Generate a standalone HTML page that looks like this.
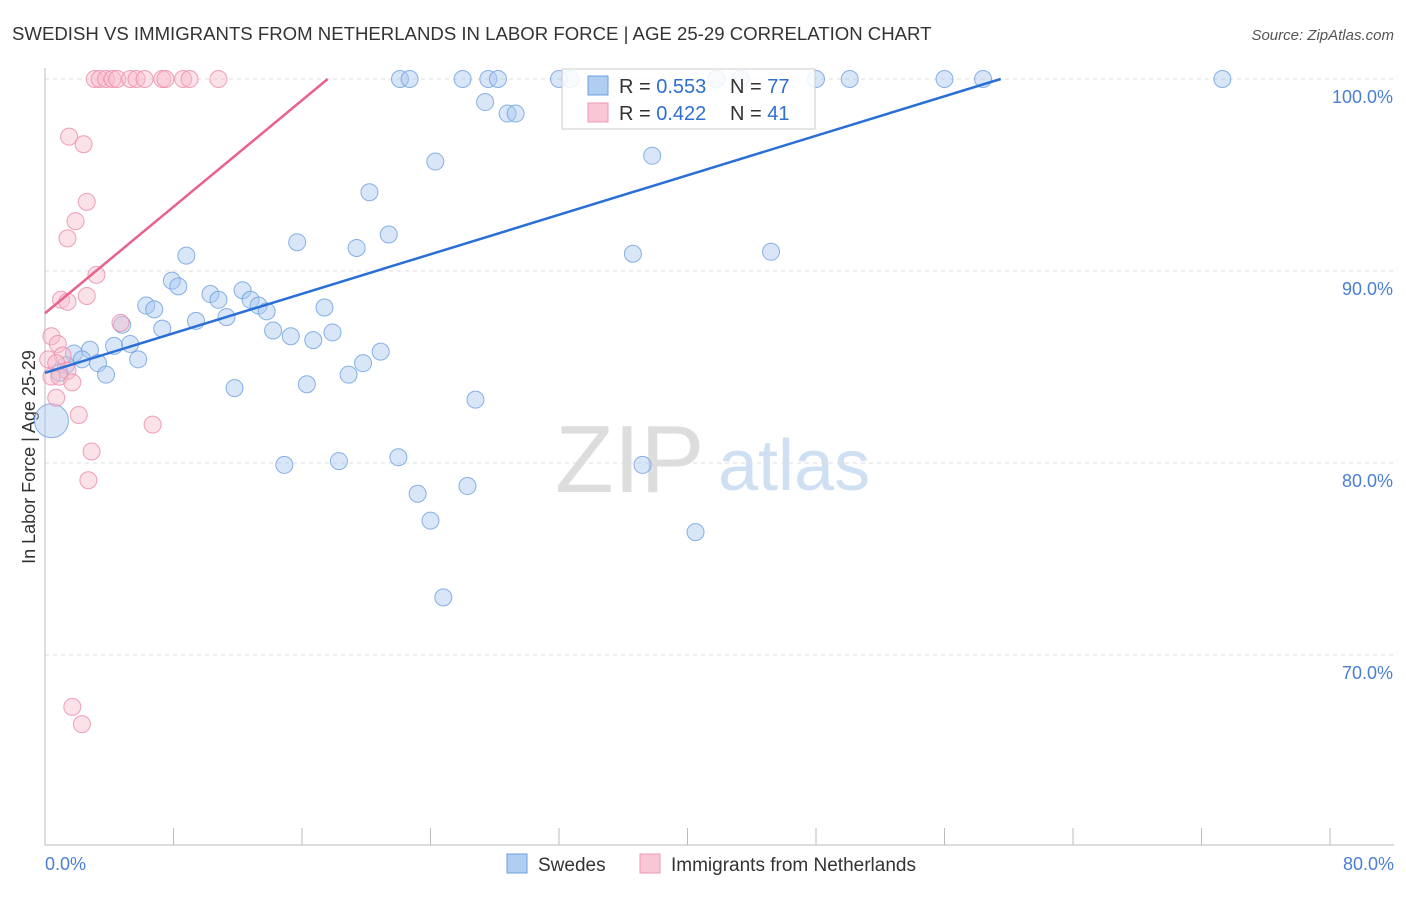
<!DOCTYPE html>
<html><head><meta charset="utf-8"><style>
body{margin:0;background:#fff;font-family:"Liberation Sans",sans-serif;}
svg text{font-family:"Liberation Sans",sans-serif;}
</style></head><body>
<svg id="c" width="1406" height="892" xmlns="http://www.w3.org/2000/svg">
<text x="12" y="40" font-size="18.6" fill="#333">SWEDISH VS IMMIGRANTS FROM NETHERLANDS IN LABOR FORCE | AGE 25-29 CORRELATION CHART</text>
<text x="1394" y="40" font-size="15" fill="#555" font-style="italic" text-anchor="end">Source: ZipAtlas.com</text>
<text x="35" y="457" font-size="18" fill="#333" text-anchor="middle" transform="rotate(-90 35 457)">In Labor Force | Age 25-29</text>
<text x="555" y="492" font-size="96" fill="#ddd" font-family="Liberation Serif">ZIP</text>
<text x="718" y="490" font-size="72" fill="#cfe0f3">atlas</text>
<g id="grid"></g><g id="pts"></g><g id="lines"></g>
<g>
<rect x="562" y="69" width="253" height="60" fill="#fff" fill-opacity="0.85" stroke="#ccc"/>
<rect x="588" y="76" width="20" height="19" fill="#b0cdf2" stroke="#6fa0e0"/>
<rect x="588" y="103" width="20" height="19" fill="#f9c6d5" stroke="#ee9ab4"/>
<text x="619" y="93" font-size="20" fill="#333">R = <tspan fill="#2f6fd0">0.553</tspan></text>
<text x="730" y="93" font-size="20" fill="#333">N = <tspan fill="#2f6fd0">77</tspan></text>
<text x="619" y="120" font-size="20" fill="#333">R = <tspan fill="#2f6fd0">0.422</tspan></text>
<text x="730" y="120" font-size="20" fill="#333">N = <tspan fill="#2f6fd0">41</tspan></text>
</g>
<g>
<rect x="507" y="854" width="20" height="19" fill="#b0cdf2" stroke="#6fa0e0"/>
<text x="538" y="871" font-size="19" fill="#333">Swedes</text>
<rect x="640" y="854" width="20" height="19" fill="#f9c6d5" stroke="#ee9ab4"/>
<text x="671" y="871" font-size="19" fill="#333">Immigrants from Netherlands</text>
</g>
<text x="45" y="870" font-size="18" fill="#4a7fd4">0.0%</text>
<text x="1394" y="870" font-size="18" fill="#4a7fd4" text-anchor="end">80.0%</text>
</svg>
<script>
const yTicks=[100,90,80,70];
const yTickLabels=["100.0%","90.0%","80.0%","70.0%"];
const swedesX=[22.1,22.7,26,27.6,28.2,32,32.7,41.8,43.3,48,50.1,56,58.4,73.3,27.4,28.8,29.3,24.3,37.8,20.2,21.4,15.7,19.4,36.6,45.2,8.8,7.9,8.3,10.3,10.8,12.3,12.8,13.3,13.8,6.3,6.8,17.4,9.4,11.3,7.3,4.8,14.2,15.3,16.7,17.9,4.3,5.3,2.8,1.8,2.3,3.3,3.8,5.8,1.3,0.9,20.9,19.8,18.9,16.3,11.8,26.8,0.4,14.9,18.3,22,37.2,23.2,26.3,24,40.5,24.8];
const swedesY=[100,100,100,100,100,100,100,100,100,100,100,100,100,100,98.8,98.2,98.2,95.7,96,94.1,91.9,91.5,91.2,90.9,91,90.8,89.5,89.2,88.8,88.5,89,88.5,88.2,87.9,88.2,88,88.1,87.4,87.6,87,87.2,86.9,86.6,86.4,86.8,86.1,86.2,85.9,85.7,85.4,85.2,84.6,85.4,85.1,84.7,85.8,85.2,84.6,84.1,83.9,83.3,82.2,79.9,80.1,80.3,79.9,78.4,78.8,77,76.4,73];
const swedesR=[8.5,8.5,8.5,8.5,8.5,8.5,8.5,8.5,8.5,8.5,8.5,8.5,8.5,8.5,8.5,8.5,8.5,8.5,8.5,8.5,8.5,8.5,8.5,8.5,8.5,8.5,8.5,8.5,8.5,8.5,8.5,8.5,8.5,8.5,8.5,8.5,8.5,8.5,8.5,8.5,8.5,8.5,8.5,8.5,8.5,8.5,8.5,8.5,8.5,8.5,8.5,8.5,8.5,8.5,8.5,8.5,8.5,8.5,8.5,8.5,8.5,17,8.5,8.5,8.5,8.5,8.5,8.5,8.5,8.5,8.5];
const nethX=[3.1,3.4,3.8,4.2,4.5,5.3,5.7,6.2,7.3,7.5,8.6,9,10.8,1.5,2.4,2.6,1.9,1.4,3.2,1,1.4,2.6,4.7,0.4,0.8,1.1,0.2,0.7,1.4,0.4,0.9,1.7,0.7,2.1,6.7,2.9,2.7,1.7,2.3];
const nethY=[100,100,100,100,100,100,100,100,100,100,100,100,100,97,96.6,93.6,92.6,91.7,89.8,88.5,88.4,88.7,87.3,86.6,86.2,85.6,85.4,85.2,84.8,84.5,84.5,84.2,83.4,82.5,82,80.6,79.1,67.3,66.4];
const blueLine=[0,84.7,59.5,100];
const pinkLine=[0,87.8,17.6,100];
const X=v=>45+v*1285/80, Y=v=>79+(100-v)*19.2;
const ns="http://www.w3.org/2000/svg";
const g=document.getElementById('grid');
yTicks.forEach((t,i)=>{
 const l=document.createElementNS(ns,'line');
 l.setAttribute('x1',45);l.setAttribute('x2',1394);l.setAttribute('y1',Y(t));l.setAttribute('y2',Y(t));
 l.setAttribute('stroke','#ddd');l.setAttribute('stroke-dasharray','4,4');
 
 
 g.appendChild(l);
 const tx=document.createElementNS(ns,'text');
 tx.setAttribute('x',1393);tx.setAttribute('y',Y(t)+24);tx.setAttribute('text-anchor','end');
 tx.setAttribute('font-size','18');tx.setAttribute('fill','#4a7fd4');tx.textContent=yTickLabels[i];
 
 
 g.appendChild(tx);
});
const ax=document.createElementNS(ns,'path');
ax.setAttribute('d','M45 68V845H1394');ax.setAttribute('stroke','#bbb');ax.setAttribute('fill','none');


g.appendChild(ax);
for(let i=1;i<=10;i++){
 const t=document.createElementNS(ns,'line');
 t.setAttribute('x1',X(i*8));t.setAttribute('x2',X(i*8));t.setAttribute('y1',828);t.setAttribute('y2',845);t.setAttribute('stroke','#bbb');
 
 
 g.appendChild(t);
}
const p=document.getElementById('pts');
function dot(x,y,r,f,s,name){
 const c=document.createElementNS(ns,'circle');
 c.setAttribute('cx',X(x));c.setAttribute('cy',Y(y));c.setAttribute('r',r);
 c.setAttribute('fill',f);c.setAttribute('fill-opacity','0.45');c.setAttribute('stroke',s);c.setAttribute('stroke-opacity','0.8');
 
 
 p.appendChild(c);
}
swedesX.forEach((x,i)=>dot(x,swedesY[i],swedesR[i],'#a9c8f0','#6d9fe0','swedes-point'));
nethX.forEach((x,i)=>dot(x,nethY[i],8.5,'#f7bccd','#ec8aa8','netherlands-point'));
const lg=document.getElementById('lines');
function line(a,col,name){
 const l=document.createElementNS(ns,'line');
 l.setAttribute('x1',X(a[0]));l.setAttribute('y1',Y(a[1]));l.setAttribute('x2',X(a[2]));l.setAttribute('y2',Y(a[3]));
 l.setAttribute('stroke',col);l.setAttribute('stroke-width','2.5');
 
 
 lg.appendChild(l);
}
line(blueLine,'#2a6fd6','swedes-trend-line');
line(pinkLine,'#e8628c','netherlands-trend-line');
</script>
</body></html>
